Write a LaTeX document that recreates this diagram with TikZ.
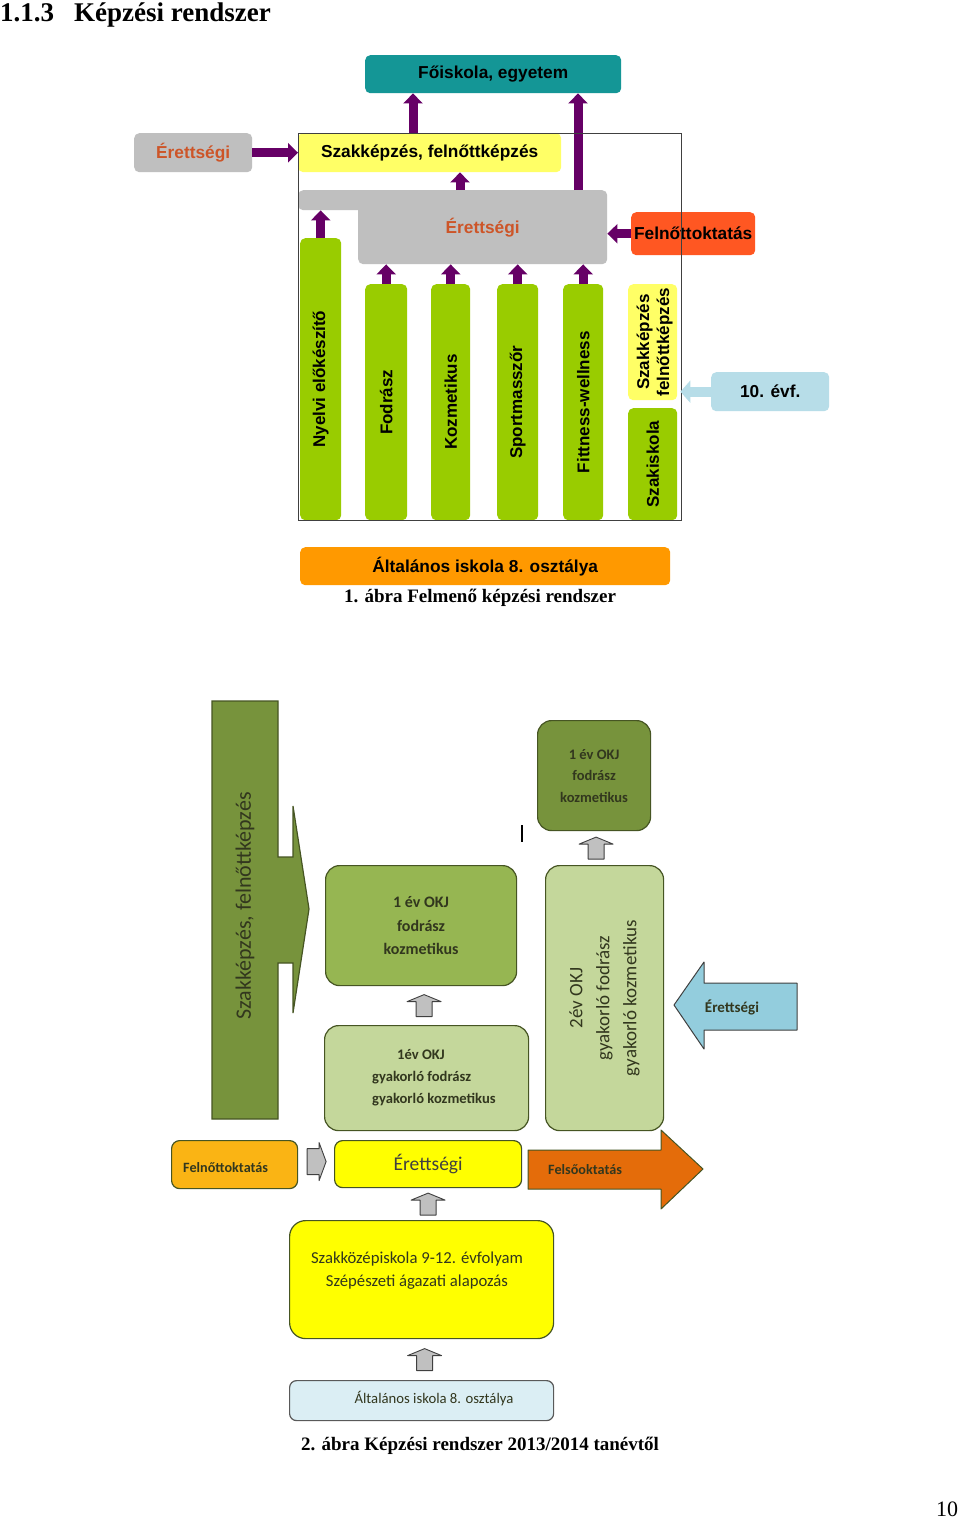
\documentclass[tikz,border=0pt]{standalone}
\usepackage{fontspec}
\setmainfont{Liberation Serif}
\newfontfamily\arialf{Liberation Sans}
\newfontfamily\calf{Carlito}
\usetikzlibrary{arrows.meta,calc}

\definecolor{cTeal}{RGB}{20,150,150}
\definecolor{cGrey}{RGB}{191,191,191}
\definecolor{cEr}{RGB}{205,85,40}
\definecolor{cPur}{RGB}{102,0,102}
\definecolor{cLY}{RGB}{255,255,102}
\definecolor{cRed}{RGB}{255,87,34}
\definecolor{cGreen}{RGB}{153,204,0}
\definecolor{cLB}{RGB}{183,221,232}
\definecolor{cOr}{RGB}{255,153,0}
\definecolor{cDG}{RGB}{119,147,60}
\definecolor{cMG}{RGB}{150,182,82}
\definecolor{cLG}{RGB}{196,215,155}
\definecolor{cBord}{RGB}{70,85,35}
\definecolor{cTxt}{RGB}{50,55,30}
\definecolor{cYO}{RGB}{250,180,20}
\definecolor{cY}{RGB}{255,255,0}
\definecolor{cFO}{RGB}{228,108,10}
\definecolor{cBA}{RGB}{147,205,221}
\definecolor{cPB}{RGB}{219,238,244}
\definecolor{cGf}{RGB}{192,192,192}
\definecolor{cGb}{RGB}{64,64,64}

\newcommand\bx[7]{\node[anchor=north west, inner sep=0pt, minimum width={#4-#2}, minimum height={#5-#3}, #6] (#1) at (#2,#3) {#7};}

\tikzset{
  f1box/.style={rounded corners=5pt, font=\arialf\bfseries\fontsize{17.3}{20}\selectfont, text=black},
  gbar/.style={fill=cGreen, rounded corners=5pt},
  vlab/.style={rotate=90, font=\arialf\bfseries\fontsize{17}{20}\selectfont, align=center},
  parrow/.style={draw=cPur, line width=9pt, -{Triangle[width=19pt,length=10pt]}},
  barrow/.style={draw=cLB, line width=10pt, -{Triangle[width=22pt,length=10pt]}},
  f2box/.style={draw=cBord, line width=1.2pt, rounded corners=14pt, text=cTxt, align=center,
    font=\calf\bfseries\fontsize{15}{21.5}\selectfont},
  f2txt/.style={text=cTxt, font=\calf\bfseries\fontsize{14.2}{16}\selectfont, inner sep=0pt},
  caption/.style={font=\bfseries\fontsize{19}{22}\selectfont, inner sep=0pt},
  gup/.pic={\draw[cGb, fill=cGf, line width=0.9pt, line join=round] (-8,11) -- (-8,-4) -- (-17,-4) -- (0,-11) -- (17,-4) -- (8,-4) -- (8,11) -- cycle;},
  gright/.pic={\draw[cGb, fill=cGf, line width=0.9pt, line join=round] (-9,-13) -- (3,-13) -- (3,-19) -- (10,0) -- (3,19) -- (3,13) -- (-9,13) -- cycle;},
}

\begin{document}
\begin{tikzpicture}[x=1pt,y=-1pt]
\useasboundingbox[fill=white] (0,0) rectangle (960,1521);

% title
\node[anchor=base west, inner sep=0pt, font=\bfseries\fontsize{27}{30}\selectfont] (title) at (0,21) {1.1.3\hspace{20pt}Képzési rendszer};

% ---------- Figure 1 ----------
\bx{fo}{365}{55}{621}{93}{f1box, fill=cTeal}{Főiskola, egyetem}
\bx{er1}{134}{133}{252}{172}{f1box, fill=cGrey, text=cEr}{Érettségi}
\bx{szak}{298}{133}{561}{172}{f1box, fill=cLY}{Szakképzés, felnőttképzés}
\node[anchor=north west, inner sep=0pt, minimum width=82, minimum height=20, fill=cGrey, rounded corners=5pt] (band) at (298,190) {};
\bx{er2}{358}{190}{607}{264}{f1box, fill=cGrey, text=cEr}{Érettségi}
\bx{fel}{631}{212}{755}{255}{f1box, fill=cRed}{Felnőttoktatás}

\draw[parrow] (er1.east) -- (er1.east -| szak.west);
\draw[parrow] ([xshift=115pt]szak.north west) -- ([xshift=48pt]fo.south west);
\draw[parrow] ([xshift=220pt]er2.north west) -- ([xshift=213pt]fo.south west);
\draw[parrow] ([xshift=102pt]er2.north west) -- ([xshift=162pt]szak.south west);
\draw[parrow] (fel.west) -- (fel.west -| er2.east);

\bx{b1}{300}{238}{341}{520}{gbar}{}
\bx{b2}{365}{284}{407}{520}{gbar}{}
\bx{b3}{431}{284}{470}{520}{gbar}{}
\bx{b4}{497}{284}{538}{520}{gbar}{}
\bx{b5}{563}{284}{603}{520}{gbar}{}
\bx{sz2}{628}{284}{677}{400}{f1box, fill=cLY}{}
\bx{b6}{628}{408}{677}{520}{gbar}{}
\node[vlab] (l1) at (b1.center) {Nyelvi előkészítő};
\node[vlab] (l2) at (b2.center) {Fodrász};
\node[vlab] (l3) at (b3.center) {Kozmetikus};
\node[vlab] (l4) at (b4.center) {Sportmasszőr};
\node[vlab] (l5) at (b5.center) {Fittness-wellness};
\node[vlab] (l6) at ([xshift=2pt]sz2.center) {Szakképzés\\felnőttképzés};
\node[vlab] (l7) at (b6.center) {Szakiskola};

\draw[parrow] (b1.north) -- (b1.north |- band.south);
\draw[parrow] (b2.north) -- (b2.north |- er2.south);
\draw[parrow] (b3.north) -- (b3.north |- er2.south);
\draw[parrow] (b4.north) -- (b4.north |- er2.south);
\draw[parrow] (b5.north) -- (b5.north |- er2.south);

\node[draw=black!75, line width=0.8pt, anchor=north west, inner sep=0pt, minimum width=383, minimum height=387] (frame) at (298,133) {};

\bx{ev}{711}{372}{829}{411}{f1box, fill=cLB}{10. évf.}
\draw[barrow] (ev.west) -- ([xshift=3pt]ev.west -| sz2.east);

\bx{alt1}{300}{547}{670}{585}{f1box, fill=cOr}{Általános iskola 8. osztálya}
\node[caption] (cap1) at (480,598) {1. ábra Felmenő képzési rendszer};

% ---------- Figure 2 ----------
\filldraw[fill=cDG, draw=cBord, line width=1.2pt] (212,701) -- (278,701) -- (278,857) -- (293,857) -- (293,806) -- (309,909) -- (293,1013) -- (293,963) -- (278,963) -- (278,1119) -- (212,1119) -- cycle;
\node[rotate=90, text=cTxt, font=\calf\fontsize{22}{26}\selectfont] (szfk) at (245,906) {Szakképzés, felnőttképzés};

\bx{t1}{537}{720}{650}{830}{f2box, fill=cDG, font=\calf\bfseries\fontsize{14.5}{21.5}\selectfont}{1 év OKJ\\fodrász\\kozmetikus}
\coordinate (cur1) at (522,825);
\coordinate (cur2) at (522,842);
\draw[line width=2.4pt] (cur1) -- (cur2);

\bx{m1}{325}{865}{516}{985}{f2box, fill=cMG, font=\calf\bfseries\fontsize{16}{23.5}\selectfont}{1 év OKJ\\fodrász\\kozmetikus}
\bx{m2}{324}{1025}{528}{1130}{f2box, fill=cLG}{}
\node[f2txt, anchor=west, align=left, font=\calf\bfseries\fontsize{14.6}{22}\selectfont] (m2t) at ([xshift=48pt]m2.west) {\hspace*{25pt}1év OKJ\\gyakorló fodrász\\gyakorló kozmetikus};
\bx{v2}{545}{865}{663}{1130}{f2box, fill=cLG}{}
\node[rotate=90, text=cTxt, align=center, font=\calf\fontsize{19}{27}\selectfont] (v2t) at (v2.center) {2év OKJ\\gyakorló fodrász\\gyakorló kozmetikus};

\pic at ($(t1.south)!0.5!(t1.south |- v2.north)+(2,0)$) {gup};
\pic at ($(m1.south)!0.5!(m1.south |- m2.north)+(3,0)$) {gup};

% blue Érettségi arrow
\filldraw[fill=cBA, draw=cGb, line width=1pt, line join=round] (674,1005) -- (704,962) -- (704,983) -- (797,983) -- (797,1030) -- (704,1030) -- (704,1049) -- cycle;
\node[f2txt, font=\calf\bfseries\fontsize{15}{17}\selectfont] (beret) at (732,1007) {Érettségi};

% row of Érettségi
\bx{fo2}{171}{1140}{297}{1188}{f2box, fill=cYO, rounded corners=8pt}{}
\node[f2txt, anchor=west] (fo2t) at (183,1168) {Felnőttoktatás};
\bx{er3}{334}{1140}{521}{1187}{f2box, fill=cY, rounded corners=8pt, font=\calf\fontsize{19.5}{22}\selectfont, text=black!75}{Érettségi}
\pic at ($(fo2.east)!0.5!(er3.west |- fo2.east)+(0,-3)$) {gright};
\filldraw[fill=cFO, draw=cBord, line width=1pt, line join=round] (528,1150) -- (661,1150) -- (661,1130) -- (703,1169) -- (661,1209) -- (661,1189) -- (528,1189) -- cycle;
\node[f2txt, anchor=west] (fso) at (548,1170) {Felsőoktatás};

\bx{szk}{289}{1220}{553}{1338}{f2box, fill=cY, rounded corners=16pt}{}
\node[text=cTxt, align=center, font=\calf\fontsize{16.7}{23}\selectfont] (szkt) at (417,1271) {Szakközépiskola 9-12. évfolyam\\Szépészeti ágazati alapozás};
\pic at ($(er3.south)!0.5!(er3.south |- szk.north)$) {gup};

\bx{alt2}{289}{1380}{553}{1420}{f2box, fill=cPB, draw=black!65, rounded corners=7pt}{}
\node[f2txt, font=\calf\fontsize{14.7}{16}\selectfont] (alt2t) at (434,1399) {Általános iskola 8. osztálya};
\pic at ($(szk.south)!0.5!(szk.south |- alt2.north)+(3,0)$) {gup};

\node[caption] (cap2) at (480,1446) {2. ábra Képzési rendszer 2013/2014 tanévtől};
\node[font=\fontsize{22}{26}\selectfont, inner sep=0pt] (pg) at (947,1509) {10};
\end{tikzpicture}
\end{document}
